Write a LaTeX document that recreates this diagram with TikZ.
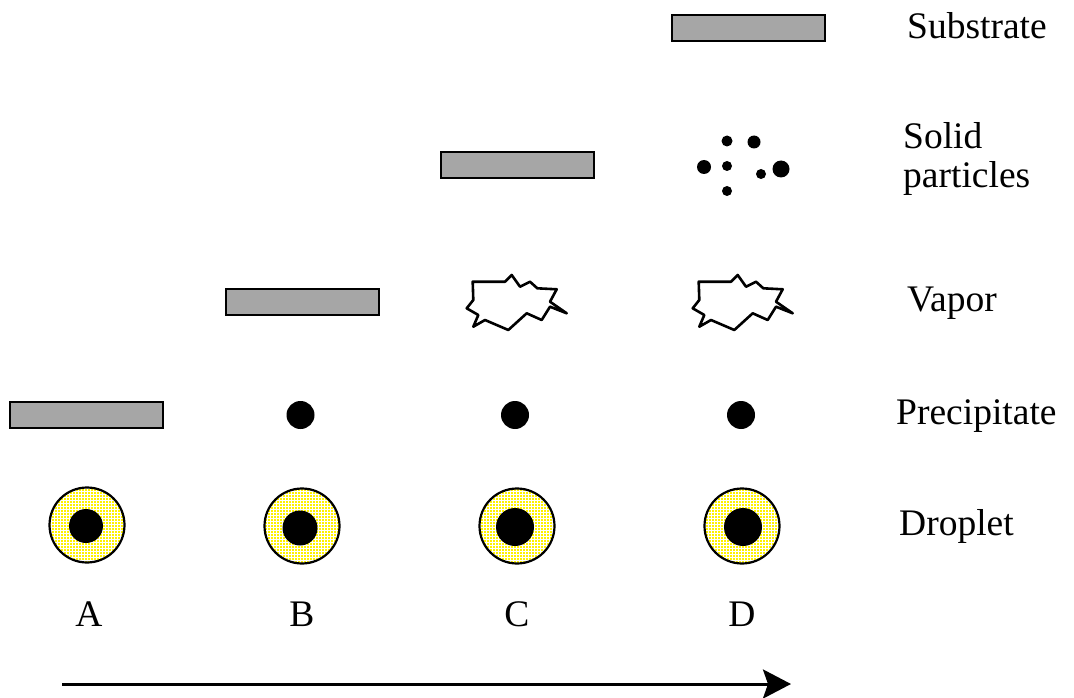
\documentclass[tikz,border=0pt]{standalone}
\usepackage{fontspec}
\setmainfont{Liberation Serif}
\usetikzlibrary{arrows.meta,patterns}
\begin{document}
\begin{tikzpicture}[x=1pt,y=-1pt,
  substrate/.style={rectangle, draw=black, line width=2pt, fill=gray!70,
    minimum width=153pt, minimum height=26pt, inner sep=0pt, outer sep=0pt},
  drop/.style={circle, fill=yellow, minimum size=75pt, inner sep=0pt,
    postaction={pattern=grid, pattern color=white},
    postaction={draw=black, line width=2.2pt}},
  core/.style={circle, fill=black, inner sep=0pt},
  precip/.style={circle, fill=black, minimum size=28pt, inner sep=0pt},
  particle/.style={circle, fill=black, inner sep=0pt},
  vapor/.style={draw=black, line width=2.6pt, line join=round},
  lbl/.style={font=\fontsize{37.5}{39}\selectfont, inner sep=0pt, text=black},
  arr/.style={line width=3pt, -{Stealth[length=28pt, width=29pt, inset=5pt]}}
]
\useasboundingbox (0,0) rectangle (1074,698);
\fill[white] (0,0) rectangle (1074,698);

% substrates
\node[substrate] (subA) at (86.5,415) {};
\node[substrate] (subB) at (302,302) {};
\node[substrate] (subC) at (517.5,165) {};
\node[substrate] (subD) at (748,28.5) {};

% precipitates
\node[precip] (preB) at (300.5,415) {};
\node[precip] (preC) at (515,415) {};
\node[precip] (preD) at (741,415) {};

% droplets
\node[drop] (dropA) at (87,525) {};
\node[drop] (dropB) at (302,526) {};
\node[drop] (dropC) at (517,526) {};
\node[drop] (dropD) at (742,526) {};
\node[core, minimum size=34pt] (coreA) at (86,526) {};
\node[core, minimum size=35pt] (coreB) at (300,528) {};
\node[core, minimum size=38pt] (coreC) at (515,527) {};
\node[core, minimum size=38pt] (coreD) at (743,527) {};

% vapor clouds
\foreach \dx in {0, 226}{
  \begin{scope}[xshift=\dx]
  \draw[vapor] (472.7,281.7) -- (505,281.7) -- (511.7,275) -- (520,286.7)
    -- (530,281.7) -- (537.3,288.3) -- (556.7,289.3) -- (550,301.7)
    -- (566.7,313.3) -- (550,306.7) -- (541.7,320) -- (526.7,313.3)
    -- (508.3,330) -- (485,320) -- (473.3,326.7) -- (478.3,315)
    -- (466.7,308.3) -- (473.3,300) -- cycle;
  \end{scope}
}

% solid particles
\node[particle, minimum size=11pt] (p1) at (727,141) {};
\node[particle, minimum size=13pt] (p2) at (754,142) {};
\node[particle, minimum size=14pt] (p3) at (704,167) {};
\node[particle, minimum size=10pt] (p4) at (727,166) {};
\node[particle, minimum size=10pt] (p5) at (761,174) {};
\node[particle, minimum size=17pt] (p6) at (781,169) {};
\node[particle, minimum size=10pt] (p7) at (727,191) {};

% right-hand labels
\node[lbl, anchor=base west] (tSub) at (907,39) {Substrate};
\node[lbl, anchor=west, align=left] (tSol) at (903,159) {Solid\\particles};
\node[lbl, anchor=base west] (tVap) at (907,311) {Vapor};
\node[lbl, anchor=base west] (tPre) at (896,424) {Precipitate};
\node[lbl, anchor=base west] (tDro) at (899,535) {Droplet};

% column labels
\node[lbl, anchor=base] (tA) at (89,626) {A};
\node[lbl, anchor=base] (tB) at (302,626) {B};
\node[lbl, anchor=base] (tC) at (517,626) {C};
\node[lbl, anchor=base] (tD) at (742,626) {D};

% time arrow
\coordinate (arrS) at (62,684);
\coordinate (arrE) at (791,684);
\draw[arr] (arrS) -- (arrE);
\end{tikzpicture}
\end{document}
